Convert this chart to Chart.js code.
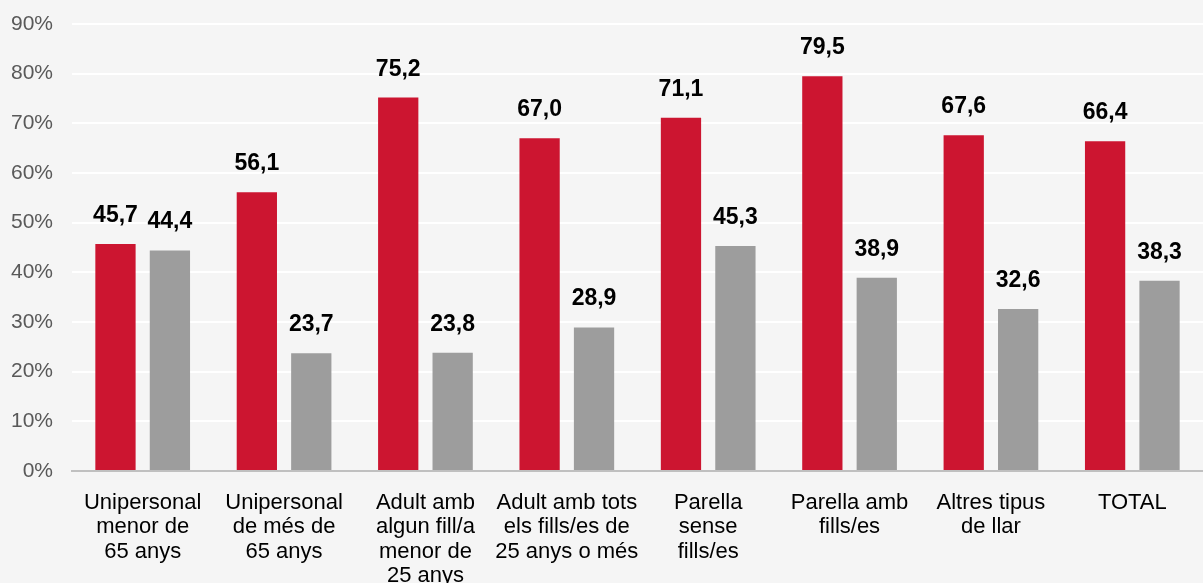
<!DOCTYPE html>
<html>
<head>
<meta charset="utf-8">
<script src="https://cdn.jsdelivr.net/npm/chart.js@4/dist/chart.umd.min.js"></script>
<style>
  html, body { margin: 0; padding: 0; background: #f5f5f5; }
  #wrap { width: 1203px; height: 583px; }
</style>
</head>
<body>
<div id="wrap"><canvas id="chart"></canvas></div>
<script>
const categories = [
  ["Unipersonal", "menor de", "65 anys"],
  ["Unipersonal", "de més de", "65 anys"],
  ["Adult amb", "algun fill/a", "menor de", "25 anys"],
  ["Adult amb tots", "els fills/es de", "25 anys o més"],
  ["Parella", "sense", "fills/es"],
  ["Parella amb", "fills/es"],
  ["Altres tipus", "de llar"],
  ["TOTAL"]
];
const redValues = [45.7, 56.1, 75.2, 67.0, 71.1, 79.5, 67.6, 66.4];
const grayValues = [44.4, 23.7, 23.8, 28.9, 45.3, 38.9, 32.6, 38.3];
const fontFam = "'Liberation Sans', Arial, sans-serif";

// labels above bars, like the original
const barLabels = {
  id: "barLabels",
  afterDatasetsDraw(chart) {
    const ctx = chart.ctx;
    ctx.save();
    ctx.font = "bold 23px " + fontFam;
    ctx.fillStyle = "#000000";
    ctx.textAlign = "center";
    ctx.textBaseline = "alphabetic";
    chart.data.datasets.forEach((ds, i) => {
      chart.getDatasetMeta(i).data.forEach((bar, j) => {
        let txt = ds.data[j].toFixed(1).replace(".", ",");
        ctx.fillText(txt, bar.x, bar.y - 22);
      });
    });
    ctx.restore();
  }
};

new Chart(document.getElementById("chart"), {
  type: "bar",
  data: {
    labels: categories,
    datasets: [{
      data: redValues,
      backgroundColor: "#cc1530",
      barPercentage: 0.74,
      categoryPercentage: 0.77
    }, {
      data: grayValues,
      backgroundColor: "#9d9d9d",
      barPercentage: 0.74,
      categoryPercentage: 0.77
    }]
  },
  options: {
    responsive: true,
    maintainAspectRatio: false,
    animation: false,
    layout: { padding: { top: 24, right: 0, left: 0, bottom: 0 } },
    plugins: {
      legend: { display: false },
      tooltip: { enabled: false }
    },
    scales: {
      x: {
        grid: { display: false },
        border: { color: "#c0c0c0", width: 2 },
        afterFit: (scale) => { scale.height = 112; },
        ticks: {
          color: "#000000",
          font: { family: fontFam, size: 22, lineHeight: 1.1 },
          maxRotation: 0,
          autoSkip: false,
          padding: 12
        }
      },
      y: {
        min: 0,
        max: 90,
        grid: { color: "#ffffff", lineWidth: 2, drawTicks: true, tickLength: 19, tickColor: "rgba(0,0,0,0)" },
        border: { display: false },
        afterFit: (scale) => { scale.width = 72; },
        ticks: {
          stepSize: 10,
          color: "#595959",
          padding: 0,
          font: { family: fontFam, size: 21 },
          callback: (v) => v + "%"
        }
      }
    }
  },
  plugins: [barLabels]
});
</script>
</body>
</html>
